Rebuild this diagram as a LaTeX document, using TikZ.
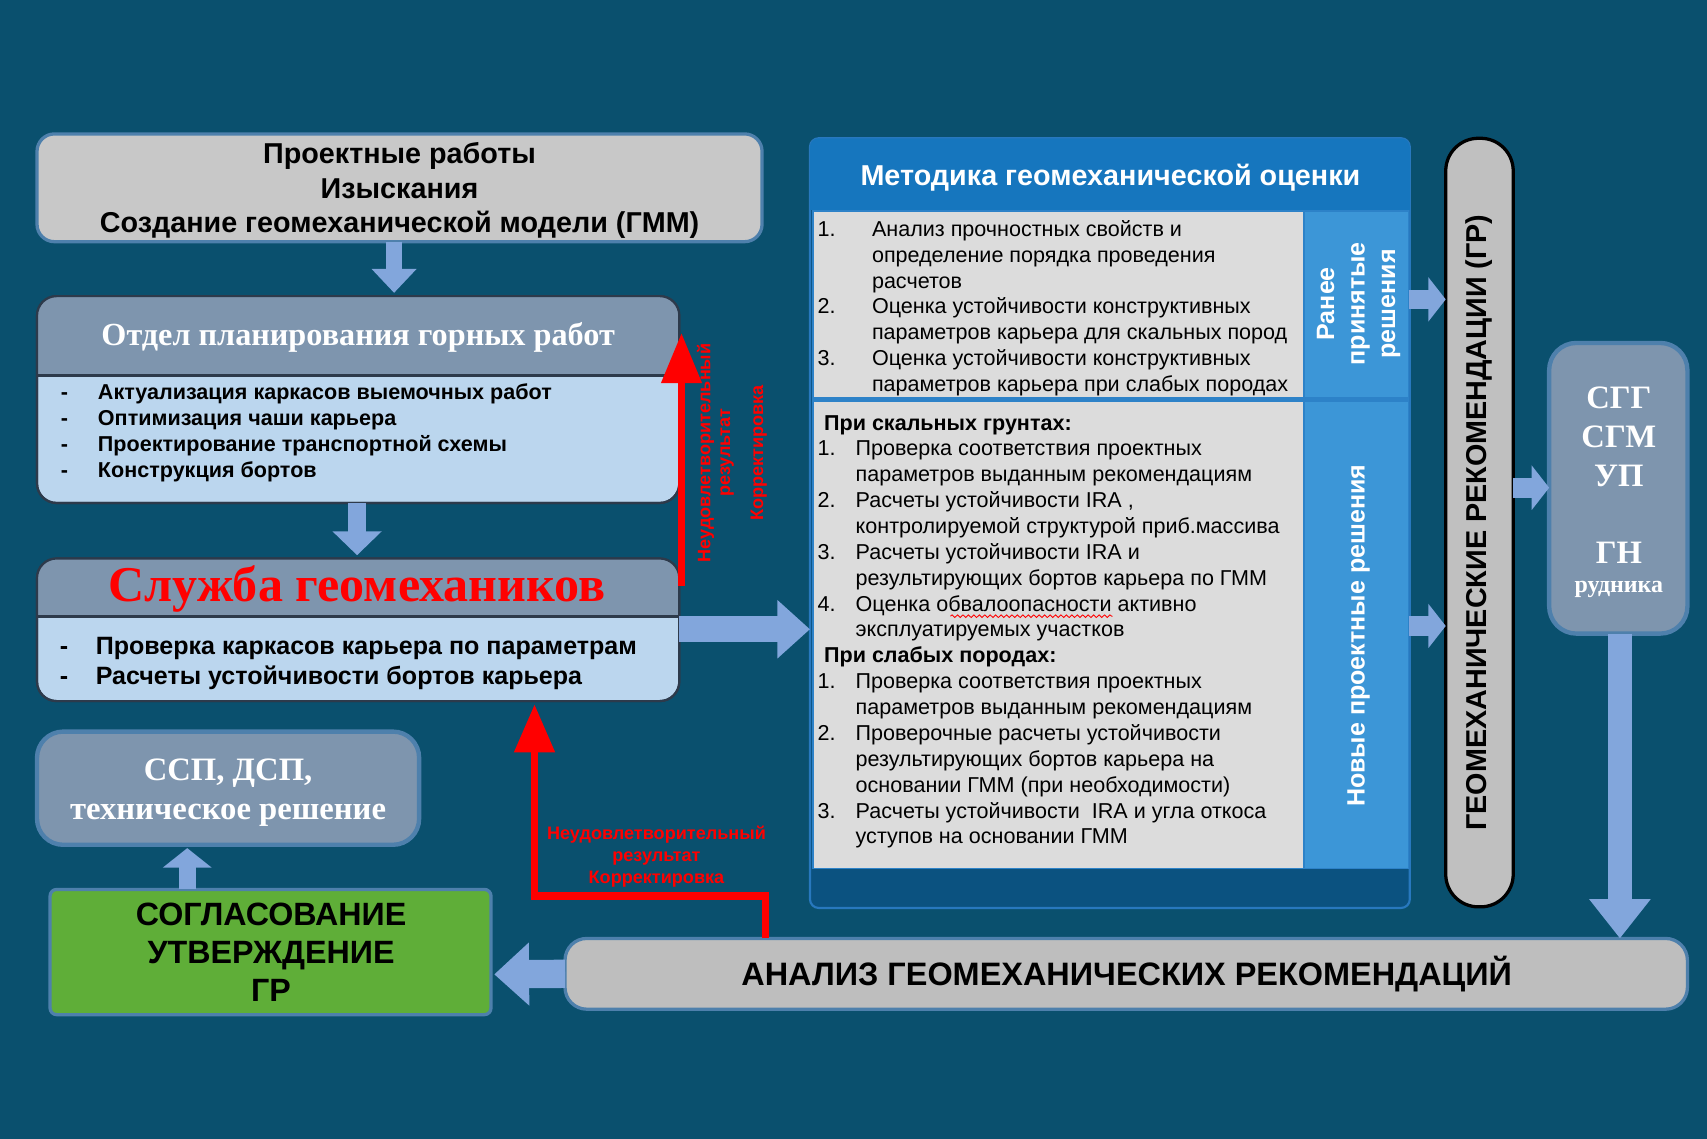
\documentclass[tikz,border=0pt]{standalone}
\usepackage{fontspec}
\setmainfont{Liberation Serif}
\setsansfont{Liberation Sans}
\usetikzlibrary{arrows.meta,calc,decorations.pathmorphing}
\definecolor{bgc}{RGB}{10,80,110}
\definecolor{boxgray}{RGB}{200,200,200}
\definecolor{edgeblue}{RGB}{78,128,172}
\definecolor{hdrc}{RGB}{126,149,174}
\definecolor{bodyc}{RGB}{187,214,238}
\definecolor{darkedge}{RGB}{45,58,75}
\definecolor{arrc}{RGB}{130,166,220}
\definecolor{greenc}{RGB}{95,174,56}
\definecolor{barc}{RGB}{190,190,190}
\definecolor{panelc}{RGB}{11,82,128}
\definecolor{paneledge}{RGB}{40,120,190}
\definecolor{pheadc}{RGB}{22,118,190}
\definecolor{pgrayc}{RGB}{220,220,220}
\definecolor{sidec}{RGB}{60,150,215}
\definecolor{sepc}{RGB}{45,130,200}
\definecolor{redc}{RGB}{255,0,0}
\definecolor{pillc}{RGB}{192,192,192}
\begin{document}
\begin{tikzpicture}[x=0.5pt,y=-0.5pt,
  every node/.style={inner sep=0pt, outer sep=0pt},
  blockarr/.style={draw=arrc, line cap=butt},
  redarr/.style={draw=redc, line width=3.3pt, line cap=butt, line join=miter},
  redlab/.style={text=redc, font=\sffamily\bfseries\fontsize{8.3}{10}\selectfont},
  itemtxt/.style={anchor=base west, align=left}]

\fill[bgc] (0,0) rectangle (1568,1046);
\useasboundingbox (0,0) rectangle (1568,1046);

% ---------- top box
\node[draw=edgeblue, line width=1.5pt, fill=boxgray, rounded corners=8pt,
      minimum width=333pt, minimum height=49.5pt] (proj) at (367,172.5) {};
\node[align=center, font=\sffamily\bfseries\fontsize{13.2}{16}\selectfont] (projt) at (367,175)
  {Проектные работы\\Изыскания\\Создание геомеханической модели (ГММ)};

% ---------- Отдел планирования
\node[draw=darkedge, line width=1pt, fill=bodyc, rounded corners=9pt,
      minimum width=295pt, minimum height=95pt] (otdel) at (329,367) {};
\begin{scope}
  \clip (0,0) rectangle (1568,345);
  \fill[hdrc, rounded corners=9pt] (34,272) rectangle (624,462);
\end{scope}
\draw[darkedge, line width=1pt, rounded corners=9pt] (34,272) rectangle (624,462);
\draw[darkedge, line width=1.5pt] (34,345) -- (624,345);
\node[text=white, font=\rmfamily\bfseries\fontsize{14.8}{18}\selectfont] (otdelt) at (329,310)
  {Отдел планирования горных работ};
\node[itemtxt, font=\sffamily\bfseries\fontsize{9.9}{12}\selectfont] (otdeld) at (56,439)
  {-\\-\\-\\-};
\node[itemtxt, font=\sffamily\bfseries\fontsize{9.9}{12}\selectfont] (otdeli) at (90,439)
  {Актуализация каркасов выемочных работ\\Оптимизация чаши карьера\\Проектирование транспортной схемы\\Конструкция бортов};

% ---------- Служба геомехаников
\node[draw=darkedge, line width=1pt, fill=bodyc, rounded corners=9pt,
      minimum width=295pt, minimum height=65.5pt] (sluzhba) at (329,578.5) {};
\begin{scope}
  \clip (0,0) rectangle (1568,566);
  \fill[hdrc, rounded corners=9pt] (34,513) rectangle (624,644);
\end{scope}
\draw[darkedge, line width=1pt, rounded corners=9pt] (34,513) rectangle (624,644);
\draw[darkedge, line width=1.5pt] (34,566) -- (624,566);
\node[text=redc, font=\rmfamily\bfseries\fontsize{23}{26}\selectfont] (sluzhbat) at (328,541)
  {Служба геомехаников};
\node[itemtxt, font=\sffamily\bfseries\fontsize{11.5}{14}\selectfont] (sluzhbad) at (55,629)
  {-\\-};
\node[itemtxt, font=\sffamily\bfseries\fontsize{11.5}{14}\selectfont] (sluzhbai) at (88,629)
  {Проверка каркасов карьера по параметрам\\Расчеты устойчивости бортов карьера};

% ---------- ССП, ДСП
\node[draw=edgeblue, line width=2pt, fill=hdrc, rounded corners=12pt,
      minimum width=175.5pt, minimum height=52pt] (ssp) at (209.5,724) {};
\node[align=center, text=white, font=\rmfamily\bfseries\fontsize{15}{18}\selectfont] (sspt) at (209.5,728)
  {ССП, ДСП,\\техническое решение};

% ---------- СОГЛАСОВАНИЕ
\node[draw=edgeblue, line width=1.5pt, fill=greenc, rounded corners=3pt,
      minimum width=202.5pt, minimum height=57.5pt] (soglas) at (248.5,874.5) {};
\node[align=center, font=\sffamily\bfseries\fontsize{14.8}{17.5}\selectfont] (soglast) at (249,875)
  {СОГЛАСОВАНИЕ\\УТВЕРЖДЕНИЕ\\ГР};

% ---------- АНАЛИЗ
\node[draw=edgeblue, line width=1.5pt, fill=barc, rounded corners=10pt,
      minimum width=515.5pt, minimum height=32.5pt] (analiz) at (1034.5,894.5) {};
\node[font=\sffamily\bfseries\fontsize{14.9}{16}\selectfont] (analizt) at (1035,895)
  {АНАЛИЗ ГЕОМЕХАНИЧЕСКИХ РЕКОМЕНДАЦИЙ};

% ---------- Методика panel
\node[draw=paneledge, line width=1pt, fill=panelc, rounded corners=4pt,
      minimum width=275.5pt, minimum height=353.5pt] (metod) at (1019.5,480.5) {};
\begin{scope}
  \clip[rounded corners=4pt] (744,127) rectangle (1295,834);
  \fill[pheadc] (744,127) rectangle (1295,193);
\end{scope}
\fill[sepc] (746,193) rectangle (1294,798);
\fill[pgrayc] (748,195) rectangle (1197,365);
\fill[pgrayc] (748,369) rectangle (1197,797);
\fill[sidec] (1199,195) rectangle (1293,365);
\fill[sidec] (1199,369) rectangle (1293,797);
\node[text=white, font=\sffamily\bfseries\fontsize{13.2}{15}\selectfont] (metodt) at (1020,163)
  {Методика геомеханической оценки};

\node[anchor=base west, font=\sffamily\fontsize{9.9}{11.9}\selectfont] (m1) at (751,217)
{\begin{tabular}[t]{@{}p{25pt}@{}l@{}}
1.&Анализ прочностных свойств и\\
&определение порядка проведения\\
&расчетов\\
2.&Оценка устойчивости конструктивных\\
&параметров карьера для скальных пород\\
3.&Оценка устойчивости конструктивных\\
&параметров карьера при слабых породах
\end{tabular}};

\node[anchor=base west, font=\sffamily\fontsize{9.9}{11.88}\selectfont] (m2) at (751,395)
{\begin{tabular}[t]{@{}p{17.5pt}@{}l@{}}
\multicolumn{2}{@{\hspace{3pt}}l}{\bfseries При скальных грунтах:}\\
1.&Проверка соответствия проектных\\
&параметров выданным рекомендациям\\
2.&Расчеты устойчивости IRA ,\\
&контролируемой структурой приб.массива\\
3.&Расчеты устойчивости IRA и\\
&результирующих бортов карьера по ГММ\\
4.&Оценка обвалоопасности активно\\
&эксплуатируемых участков\\
\multicolumn{2}{@{\hspace{3pt}}l}{\bfseries При слабых породах:}\\
1.&Проверка соответствия проектных\\
&параметров выданным рекомендациям\\
2.&Проверочные расчеты устойчивости\\
&результирующих бортов карьера на\\
&основании ГММ (при необходимости)\\
3.&Расчеты устойчивости\ \ IRA и угла откоса\\
&уступов на основании ГММ
\end{tabular}};
\draw[redc, line width=0.4pt, decorate, decoration={snake, amplitude=0.6pt, segment length=2.5pt}]
  (873,566) -- (1022,566);

\node[rotate=90, align=center, text=white, font=\sffamily\bfseries\fontsize{11.5}{14}\selectfont] (ranee) at (1248,279)
  {Ранее\\принятые\\решения};
\node[rotate=90, text=white, font=\sffamily\bfseries\fontsize{11.5}{12}\selectfont] (novye) at (1248,584)
  {Новые проектные решения};

% ---------- ГР pill
\node[draw=black, line width=1.5pt, fill=pillc, rounded corners=15pt,
      minimum width=31pt, minimum height=353pt] (gr) at (1359,480) {};
\node[rotate=90, font=\sffamily\bfseries\fontsize{13.2}{14}\selectfont] (grt) at (1359,480)
  {ГЕОМЕХАНИЧЕСКИЕ РЕКОМЕНДАЦИИ (ГР)};

% ---------- СГГ box
\node[draw=edgeblue, line width=2pt, fill=hdrc, rounded corners=12.5pt,
      minimum width=63.5pt, minimum height=133.5pt] (sgg) at (1486.5,448.5) {};
\node[align=center, text=white, font=\rmfamily\bfseries\fontsize{15}{18}\selectfont] (sggt) at (1487,401)
  {СГГ\\СГМ\\УП};
\node[text=white, font=\rmfamily\bfseries\fontsize{15}{18}\selectfont] (gnt) at (1487,508) {ГН};
\node[text=white, font=\rmfamily\bfseries\fontsize{11}{13}\selectfont] (rudt) at (1487,541) {рудника};

% ---------- block arrows
\draw[blockarr, line width=7pt, -{Triangle[length=11pt,width=20pt]}]
  (362,0 |- proj.south) -- ($(362,0 |- otdel.north)+(0,-3)$);
\draw[blockarr, line width=8pt, -{Triangle[length=11pt,width=22pt]}]
  (328,0 |- otdel.south) -- ($(328,0 |- sluzhba.north)+(0,-3)$);
\draw[blockarr, line width=12pt, -{Triangle[length=15pt,width=26pt]}]
  (sluzhba.east |- 0,578) -- (metod.west |- 0,578);
\draw[blockarr, line width=8pt, -{Triangle[length=9pt,width=22pt]}]
  (172,0 |- soglas.north) -- ($(172,0 |- ssp.south)+(0,3)$);
\draw[blockarr, line width=13pt, -{Triangle[length=16pt,width=28pt]}]
  (analiz.west) -- ($(soglas.east)+(3,20.5)$);
\draw[blockarr, line width=9pt, -{Triangle[length=8pt,width=20pt]}]
  (1294,275) -- (gr.west |- 0,275);
\draw[blockarr, line width=9pt, -{Triangle[length=8pt,width=20pt]}]
  (1294,575) -- (gr.west |- 0,575);
\draw[blockarr, line width=9pt, -{Triangle[length=8pt,width=20pt]}]
  (gr.east |- 0,448) -- (sgg.west |- 0,448);
\draw[blockarr, line width=11pt, -{Triangle[length=18pt,width=27pt]}]
  (1488,0 |- sgg.south) -- (1488,0 |- analiz.north);

% ---------- red feedback arrows
\coordinate (r1s) at (626,538);
\coordinate (r1e) at (626,306);
\draw[redarr, -{Triangle[length=23pt,width=18pt]}] (r1s) -- (r1e);
\node[rotate=90, redlab] (r1a) at (648,416) {Неудовлетворительный};
\node[rotate=90, redlab] (r1b) at (668,416) {результат};
\node[rotate=90, redlab] (r1c) at (697,416) {Корректировка};

\draw[redarr, -{Triangle[length=22pt,width=18pt]}]
  (703,0 |- analiz.north) |- (491,823) -- ($(491,0 |- sluzhba.south)+(0,3)$);
\node[align=center, redlab] (r2t) at (603,787)
  {Неудовлетворительный\\результат\\Корректировка};

\end{tikzpicture}
\end{document}
